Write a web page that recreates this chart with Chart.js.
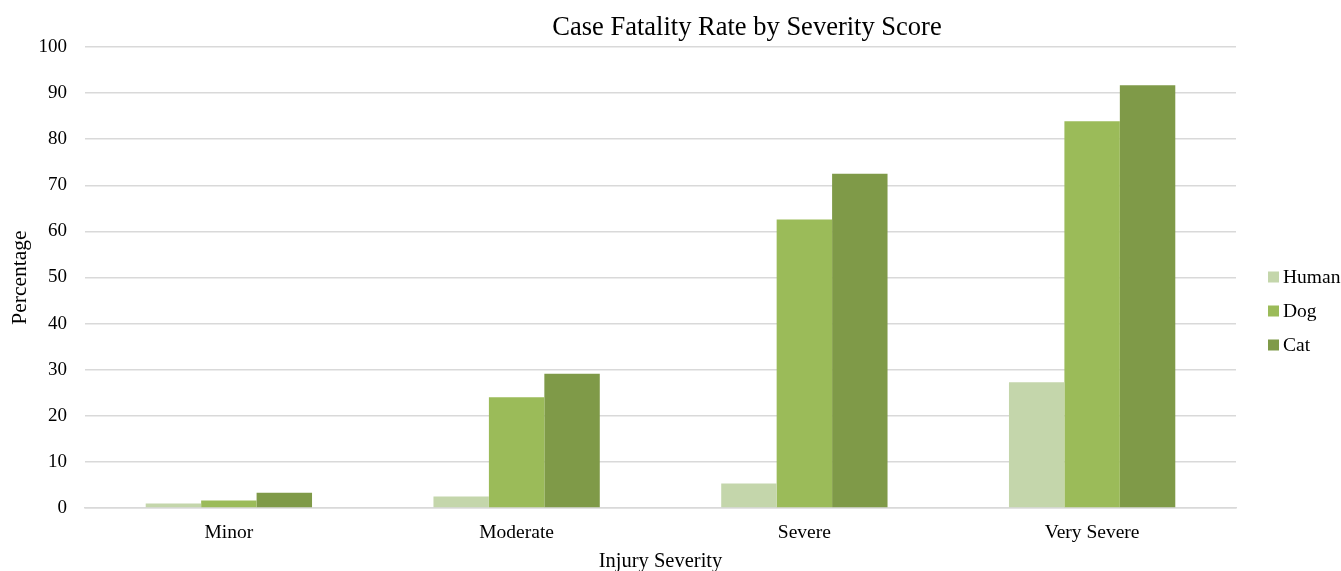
<!DOCTYPE html>
<html>
<head>
<meta charset="utf-8">
<script src="https://cdn.jsdelivr.net/npm/chart.js@4.4.1/dist/chart.umd.min.js"></script>
<style>
  html, body { margin: 0; padding: 0; background: #ffffff; }
  #wrap { width: 1341px; height: 571px; position: relative; }
</style>
</head>
<body>
<div id="wrap"><canvas id="c" width="1341" height="571"></canvas></div>
<script>
const categories = ["Minor", "Moderate", "Severe", "Very Severe"];
const seriesNames = ["Human", "Dog", "Cat"];
const humanValues = [1.0, 2.5, 5.3, 27.3];
const dogValues = [1.6, 24.0, 62.6, 83.9];
const catValues = [3.3, 29.1, 72.5, 91.7];
const yTicks = [0, 10, 20, 30, 40, 50, 60, 70, 80, 90, 100];
const chartTitle = "Case Fatality Rate by Severity Score";
const xTitle = "Injury Severity";
const yTitle = "Percentage";

const colors = ["#C4D6AB", "#9BBB59", "#7F9A48"];
const FONT = "'Liberation Serif', 'DejaVu Serif', serif";

const customDecor = {
  id: 'customDecor',
  afterDraw(chart) {
    const ctx = chart.ctx;
    ctx.save();
    // title
    ctx.font = "26.5px " + FONT;
    ctx.fillStyle = "#000000";
    ctx.textAlign = 'center';
    ctx.textBaseline = 'middle';
    ctx.fillText(chartTitle, 747, 28);
    // legend
    ctx.font = "19.5px " + FONT;
    ctx.textAlign = 'left';
    const startY = 277, step = 34, x = 1268;
    chart.data.datasets.forEach((ds, i) => {
      const y = startY + i * step;
      ctx.fillStyle = ds.backgroundColor;
      ctx.fillRect(x, y - 5.5, 11, 11);
      ctx.fillStyle = "#000000";
      ctx.fillText(ds.label, x + 15, y + 1);
    });
    ctx.restore();
  }
};

new Chart(document.getElementById('c'), {
  type: 'bar',
  data: {
    labels: categories,
    datasets: [
      { label: seriesNames[0], data: humanValues, backgroundColor: colors[0] },
      { label: seriesNames[1], data: dogValues, backgroundColor: colors[1] },
      { label: seriesNames[2], data: catValues, backgroundColor: colors[2] }
    ]
  },
  options: {
    responsive: false,
    animation: false,
    devicePixelRatio: 1,
    layout: { padding: { left: 0, right: 105, top: 47, bottom: 0 } },
    datasets: {
      bar: {
        categoryPercentage: 0.578,
        barPercentage: 1.0,
        borderWidth: 0
      }
    },
    plugins: {
      legend: { display: false },
      tooltip: { enabled: false },
      title: { display: false }
    },
    scales: {
      x: {
        grid: { display: false, drawTicks: false },
        border: { display: true, color: "#D9D9D9", width: 1.5 },
        ticks: { color: "#000000", font: { family: FONT, size: 19.5 }, padding: 13 },
        title: { display: true, text: xTitle, color: "#000000", font: { family: FONT, size: 20.5 }, padding: { top: 4, bottom: -2.5 } },
        afterFit(scale) { scale.height = 63; }
      },
      y: {
        min: 0, max: 100,
        afterBuildTicks(scale) { scale.ticks = yTicks.map(v => ({ value: v })); },
        grid: { color: "#D9D9D9", lineWidth: 1.5, drawTicks: false },
        border: { display: false },
        ticks: { color: "#000000", font: { family: FONT, size: 19 }, padding: 18 },
        title: { display: true, text: yTitle, color: "#000000", font: { family: FONT, size: 21.5 }, padding: { top: 7, bottom: 0 } },
        afterFit(scale) { scale.width = 85; }
      }
    }
  },
  plugins: [customDecor]
});
</script>
</body>
</html>
